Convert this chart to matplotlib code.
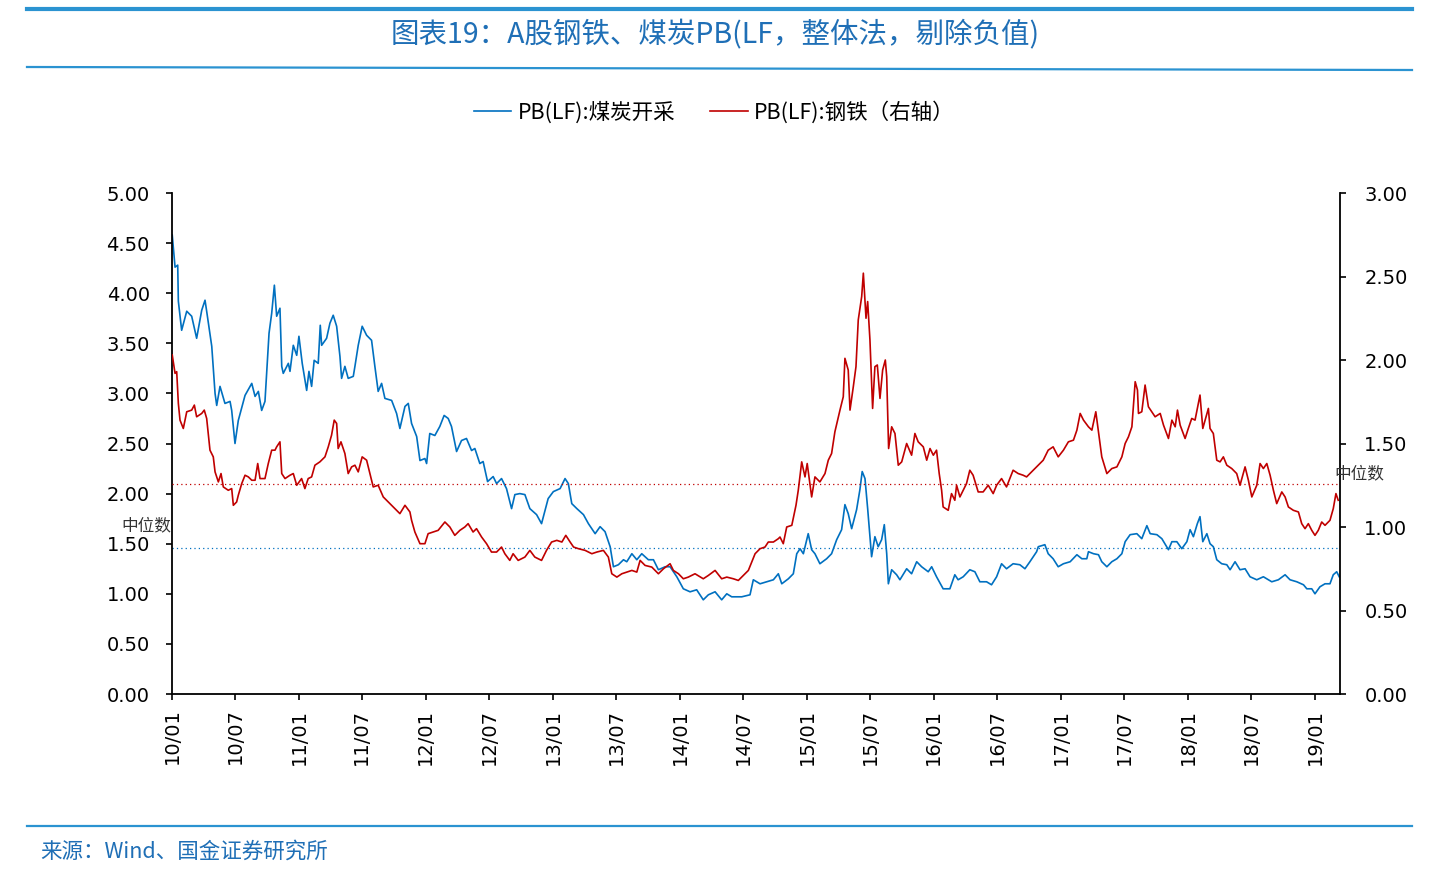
import pandas as pd
import matplotlib
matplotlib.use("Agg")
import matplotlib.pyplot as plt
import matplotlib.dates as mdates
from matplotlib.lines import Line2D

# PB(LF) 煤炭开采 (左轴)，时间为小数年份
coal_t = [2010.002, 2010.024, 2010.045, 2010.050, 2010.076, 2010.116, 2010.155, 2010.194,
          2010.234, 2010.260, 2010.273, 2010.313, 2010.339, 2010.352, 2010.378, 2010.417,
          2010.457, 2010.470, 2010.496, 2010.522, 2010.575, 2010.628, 2010.654, 2010.680,
          2010.706, 2010.732, 2010.764, 2010.785, 2010.806, 2010.824, 2010.850, 2010.864,
          2010.876, 2010.916, 2010.929, 2010.955, 2010.982, 2011.000, 2011.026, 2011.061,
          2011.079, 2011.100, 2011.120, 2011.152, 2011.168, 2011.179, 2011.218, 2011.244,
          2011.270, 2011.297, 2011.323, 2011.336, 2011.362, 2011.388, 2011.428, 2011.441,
          2011.467, 2011.498, 2011.533, 2011.572, 2011.598, 2011.624, 2011.651, 2011.677,
          2011.730, 2011.769, 2011.795, 2011.835, 2011.861, 2011.887, 2011.927, 2011.953,
          2011.992, 2012.006, 2012.031, 2012.071, 2012.110, 2012.144, 2012.176, 2012.202,
          2012.242, 2012.281, 2012.320, 2012.360, 2012.386, 2012.425, 2012.451, 2012.486,
          2012.530, 2012.557, 2012.596, 2012.635, 2012.675, 2012.701, 2012.740, 2012.780,
          2012.819, 2012.872, 2012.911, 2012.963, 2013.002, 2013.055, 2013.094, 2013.120,
          2013.147, 2013.187, 2013.239, 2013.278, 2013.331, 2013.370, 2013.409, 2013.449,
          2013.475, 2013.514, 2013.554, 2013.580, 2013.620, 2013.659, 2013.698, 2013.750,
          2013.790, 2013.829, 2013.882, 2013.921, 2013.974, 2014.026, 2014.079, 2014.131,
          2014.183, 2014.223, 2014.276, 2014.328, 2014.368, 2014.407, 2014.486, 2014.551,
          2014.577, 2014.630, 2014.683, 2014.735, 2014.774, 2014.801, 2014.853, 2014.892,
          2014.919, 2014.945, 2014.971, 2015.010, 2015.037, 2015.063, 2015.102, 2015.155,
          2015.194, 2015.234, 2015.273, 2015.299, 2015.325, 2015.352, 2015.391, 2015.417,
          2015.435, 2015.457, 2015.478, 2015.509, 2015.535, 2015.561, 2015.588, 2015.609,
          2015.628, 2015.641, 2015.667, 2015.706, 2015.732, 2015.785, 2015.824, 2015.864,
          2015.903, 2015.955, 2015.982, 2016.021, 2016.073, 2016.126, 2016.165, 2016.191,
          2016.231, 2016.283, 2016.323, 2016.362, 2016.415, 2016.454, 2016.494, 2016.533,
          2016.572, 2016.624, 2016.677, 2016.717, 2016.756, 2016.809, 2016.822, 2016.874,
          2016.900, 2016.939, 2016.979, 2017.018, 2017.071, 2017.124, 2017.163, 2017.202,
          2017.215, 2017.255, 2017.294, 2017.320, 2017.360, 2017.399, 2017.439, 2017.478,
          2017.504, 2017.543, 2017.596, 2017.635, 2017.675, 2017.701, 2017.754, 2017.793,
          2017.845, 2017.872, 2017.911, 2017.950, 2017.990, 2018.016, 2018.042, 2018.073,
          2018.094, 2018.116, 2018.148, 2018.173, 2018.199, 2018.226, 2018.265, 2018.305,
          2018.331, 2018.370, 2018.409, 2018.449, 2018.488, 2018.541, 2018.593, 2018.659,
          2018.711, 2018.764, 2018.803, 2018.856, 2018.909, 2018.935, 2018.974, 2019.000,
          2019.039, 2019.079, 2019.118, 2019.144, 2019.171, 2019.191]
coal_pb = [4.58, 4.26, 4.28, 3.92, 3.63, 3.82, 3.77, 3.55,
           3.83, 3.93, 3.82, 3.47, 3.00, 2.88, 3.07, 2.90,
           2.92, 2.83, 2.50, 2.73, 2.98, 3.10, 2.97, 3.02,
           2.83, 2.92, 3.60, 3.80, 4.08, 3.77, 3.85, 3.27,
           3.20, 3.30, 3.22, 3.48, 3.38, 3.57, 3.30, 3.03,
           3.22, 3.07, 3.33, 3.30, 3.68, 3.48, 3.55, 3.70,
           3.78, 3.67, 3.37, 3.15, 3.27, 3.15, 3.17, 3.27,
           3.48, 3.67, 3.58, 3.53, 3.27, 3.02, 3.10, 2.95,
           2.93, 2.80, 2.65, 2.87, 2.90, 2.70, 2.57, 2.33,
           2.35, 2.30, 2.60, 2.58, 2.67, 2.78, 2.75, 2.67,
           2.42, 2.53, 2.55, 2.43, 2.45, 2.30, 2.32, 2.12,
           2.17, 2.10, 2.15, 2.05, 1.85, 1.99, 2.00, 1.99,
           1.85, 1.79, 1.70, 1.95, 2.02, 2.05, 2.15, 2.10,
           1.90, 1.85, 1.79, 1.70, 1.60, 1.67, 1.62, 1.47,
           1.27, 1.29, 1.34, 1.32, 1.40, 1.34, 1.40, 1.34,
           1.34, 1.24, 1.27, 1.27, 1.17, 1.05, 1.02, 1.04,
           0.94, 0.99, 1.02, 0.94, 1.00, 0.97, 0.97, 0.99,
           1.14, 1.10, 1.12, 1.14, 1.20, 1.10, 1.15, 1.20,
           1.40, 1.45, 1.40, 1.60, 1.44, 1.40, 1.30, 1.35,
           1.40, 1.54, 1.64, 1.89, 1.80, 1.65, 1.84, 2.04,
           2.22, 2.15, 1.85, 1.37, 1.57, 1.47, 1.54, 1.69,
           1.40, 1.10, 1.24, 1.19, 1.14, 1.25, 1.20, 1.32,
           1.27, 1.22, 1.27, 1.17, 1.05, 1.05, 1.19, 1.14,
           1.17, 1.24, 1.22, 1.12, 1.12, 1.09, 1.17, 1.30,
           1.25, 1.30, 1.29, 1.25, 1.32, 1.42, 1.47, 1.49,
           1.40, 1.35, 1.27, 1.30, 1.32, 1.39, 1.35, 1.35,
           1.42, 1.40, 1.39, 1.32, 1.27, 1.32, 1.35, 1.40,
           1.52, 1.59, 1.60, 1.55, 1.68, 1.60, 1.59, 1.55,
           1.44, 1.52, 1.52, 1.45, 1.52, 1.64, 1.57, 1.70,
           1.77, 1.52, 1.60, 1.50, 1.47, 1.34, 1.30, 1.29,
           1.24, 1.32, 1.24, 1.25, 1.17, 1.14, 1.17, 1.12,
           1.14, 1.19, 1.14, 1.12, 1.09, 1.05, 1.05, 1.00,
           1.07, 1.10, 1.10, 1.19, 1.22, 1.17]

# PB(LF) 钢铁 (右轴)
steel_t = [2010.002, 2010.024, 2010.037, 2010.050, 2010.063, 2010.089, 2010.116, 2010.155,
           2010.176, 2010.194, 2010.234, 2010.254, 2010.273, 2010.299, 2010.325, 2010.339,
           2010.365, 2010.386, 2010.404, 2010.443, 2010.470, 2010.483, 2010.509, 2010.522,
           2010.549, 2010.575, 2010.601, 2010.628, 2010.654, 2010.675, 2010.693, 2010.732,
           2010.758, 2010.785, 2010.811, 2010.824, 2010.850, 2010.864, 2010.890, 2010.929,
           2010.955, 2010.982, 2011.021, 2011.047, 2011.073, 2011.100, 2011.126, 2011.165,
           2011.205, 2011.231, 2011.257, 2011.278, 2011.297, 2011.309, 2011.331, 2011.362,
           2011.388, 2011.415, 2011.441, 2011.467, 2011.498, 2011.533, 2011.559, 2011.585,
           2011.624, 2011.664, 2011.703, 2011.756, 2011.795, 2011.835, 2011.874, 2011.887,
           2011.913, 2011.953, 2011.992, 2012.018, 2012.057, 2012.097, 2012.150, 2012.189,
           2012.228, 2012.268, 2012.307, 2012.333, 2012.372, 2012.399, 2012.439, 2012.478,
           2012.517, 2012.557, 2012.596, 2012.622, 2012.661, 2012.687, 2012.727, 2012.780,
           2012.819, 2012.858, 2012.911, 2012.950, 2012.990, 2013.029, 2013.069, 2013.100,
           2013.134, 2013.161, 2013.200, 2013.252, 2013.305, 2013.344, 2013.396, 2013.435,
           2013.462, 2013.502, 2013.541, 2013.580, 2013.620, 2013.659, 2013.685, 2013.724,
           2013.777, 2013.829, 2013.869, 2013.921, 2013.947, 2013.987, 2014.026, 2014.065,
           2014.118, 2014.183, 2014.223, 2014.276, 2014.328, 2014.368, 2014.420, 2014.459,
           2014.498, 2014.538, 2014.591, 2014.630, 2014.669, 2014.695, 2014.735, 2014.774,
           2014.787, 2014.813, 2014.840, 2014.880, 2014.913, 2014.931, 2014.958, 2014.984,
           2015.002, 2015.037, 2015.063, 2015.102, 2015.142, 2015.168, 2015.194, 2015.220,
           2015.260, 2015.286, 2015.299, 2015.325, 2015.339, 2015.365, 2015.386, 2015.404,
           2015.431, 2015.444, 2015.465, 2015.478, 2015.496, 2015.517, 2015.535, 2015.554,
           2015.575, 2015.596, 2015.617, 2015.628, 2015.643, 2015.667, 2015.693, 2015.719,
           2015.746, 2015.785, 2015.824, 2015.850, 2015.876, 2015.916, 2015.943, 2015.969,
           2015.995, 2016.021, 2016.042, 2016.061, 2016.073, 2016.113, 2016.139, 2016.165,
           2016.179, 2016.205, 2016.231, 2016.257, 2016.283, 2016.309, 2016.349, 2016.388,
           2016.428, 2016.467, 2016.494, 2016.533, 2016.572, 2016.624, 2016.664, 2016.703,
           2016.730, 2016.769, 2016.809, 2016.835, 2016.861, 2016.900, 2016.939, 2016.979,
           2017.018, 2017.057, 2017.097, 2017.124, 2017.150, 2017.176, 2017.215, 2017.242,
           2017.273, 2017.294, 2017.320, 2017.360, 2017.399, 2017.439, 2017.478, 2017.504,
           2017.530, 2017.557, 2017.583, 2017.601, 2017.609, 2017.635, 2017.661, 2017.687,
           2017.714, 2017.740, 2017.780, 2017.806, 2017.845, 2017.872, 2017.898, 2017.916,
           2017.937, 2017.976, 2018.002, 2018.029, 2018.055, 2018.073, 2018.094, 2018.116,
           2018.142, 2018.160, 2018.173, 2018.199, 2018.226, 2018.252, 2018.278, 2018.305,
           2018.344, 2018.383, 2018.409, 2018.449, 2018.475, 2018.502, 2018.541, 2018.567,
           2018.593, 2018.620, 2018.646, 2018.672, 2018.698, 2018.738, 2018.764, 2018.790,
           2018.829, 2018.869, 2018.895, 2018.921, 2018.947, 2018.974, 2019.000, 2019.026,
           2019.053, 2019.079, 2019.118, 2019.144, 2019.165, 2019.183]
steel_pb = [2.03, 1.92, 1.93, 1.74, 1.64, 1.59, 1.69, 1.70,
            1.73, 1.66, 1.68, 1.70, 1.65, 1.46, 1.42, 1.33,
            1.27, 1.32, 1.24, 1.22, 1.23, 1.13, 1.15, 1.19,
            1.26, 1.31, 1.30, 1.28, 1.28, 1.38, 1.29, 1.29,
            1.38, 1.46, 1.46, 1.48, 1.51, 1.32, 1.29, 1.31,
            1.32, 1.25, 1.29, 1.23, 1.29, 1.30, 1.37, 1.39,
            1.42, 1.48, 1.55, 1.64, 1.62, 1.47, 1.51, 1.44,
            1.32, 1.36, 1.37, 1.33, 1.42, 1.40, 1.32, 1.24,
            1.25, 1.18, 1.15, 1.11, 1.08, 1.13, 1.09, 1.04,
            0.97, 0.90, 0.90, 0.96, 0.97, 0.98, 1.03, 1.00,
            0.95, 0.98, 1.00, 1.02, 0.97, 0.99, 0.94, 0.90,
            0.85, 0.85, 0.88, 0.84, 0.80, 0.84, 0.80, 0.82,
            0.86, 0.82, 0.80, 0.86, 0.91, 0.92, 0.91, 0.95,
            0.91, 0.88, 0.87, 0.86, 0.84, 0.85, 0.86, 0.82,
            0.72, 0.70, 0.72, 0.73, 0.74, 0.73, 0.80, 0.77,
            0.76, 0.72, 0.75, 0.78, 0.74, 0.72, 0.69, 0.70,
            0.72, 0.69, 0.71, 0.74, 0.69, 0.70, 0.69, 0.68,
            0.71, 0.74, 0.84, 0.87, 0.88, 0.91, 0.91, 0.93,
            0.94, 0.90, 1.00, 1.01, 1.13, 1.22, 1.39, 1.30,
            1.38, 1.18, 1.30, 1.27, 1.32, 1.40, 1.44, 1.57,
            1.70, 1.78, 2.01, 1.94, 1.70, 1.84, 1.96, 2.24,
            2.38, 2.52, 2.25, 2.35, 2.12, 1.71, 1.96, 1.97,
            1.77, 1.94, 2.00, 1.90, 1.47, 1.60, 1.56, 1.37,
            1.39, 1.50, 1.43, 1.56, 1.51, 1.48, 1.40, 1.47,
            1.43, 1.46, 1.32, 1.22, 1.12, 1.10, 1.20, 1.16,
            1.25, 1.18, 1.22, 1.26, 1.34, 1.31, 1.21, 1.21,
            1.25, 1.20, 1.25, 1.29, 1.24, 1.34, 1.32, 1.31,
            1.30, 1.33, 1.36, 1.38, 1.40, 1.46, 1.48, 1.42,
            1.46, 1.51, 1.52, 1.58, 1.68, 1.64, 1.60, 1.58,
            1.69, 1.57, 1.42, 1.32, 1.35, 1.36, 1.42, 1.50,
            1.54, 1.60, 1.87, 1.82, 1.68, 1.69, 1.85, 1.72,
            1.69, 1.66, 1.68, 1.61, 1.53, 1.64, 1.60, 1.70,
            1.61, 1.53, 1.59, 1.65, 1.64, 1.71, 1.79, 1.59,
            1.66, 1.71, 1.59, 1.56, 1.40, 1.39, 1.42, 1.37,
            1.35, 1.32, 1.25, 1.36, 1.28, 1.18, 1.25, 1.38,
            1.35, 1.38, 1.31, 1.22, 1.14, 1.21, 1.18, 1.12,
            1.10, 1.09, 1.02, 0.99, 1.02, 0.98, 0.95, 0.98,
            1.03, 1.01, 1.04, 1.11, 1.20, 1.16]

coal_median = 1.46
steel_median = 1.26

title = "图表19：A股钢铁、煤炭PB(LF，整体法，剔除负值)"
coal_label = "PB(LF):煤炭开采"
steel_label = "PB(LF):钢铁（右轴）"
source = "来源：Wind、国金证券研究所"

BLUE = "#0070c0"
RED = "#c00000"
TITLE_BLUE = "#1f6fb6"
RULE_BLUE = "#2b93d1"
CJK = ["Noto Sans CJK SC", "DejaVu Sans"]


def to_dates(years):
    # decimal year -> Timestamp
    out = []
    for y in years:
        yr = int(y)
        out.append(pd.Timestamp(yr, 1, 1) + pd.Timedelta(days=(y - yr) * 365.25))
    return out


plt.rcParams['font.family'] = ['DejaVu Sans', 'Noto Sans CJK SC']

fig = plt.figure(figsize=(14.4, 8.85), dpi=100)
ax = fig.add_axes([172 / 1440, 1 - 694 / 885, 1168 / 1440, 501 / 885])
ax2 = ax.twinx()

coal_x = to_dates(coal_t)
steel_x = to_dates(steel_t)

l1, = ax.plot(coal_x, coal_pb, color=BLUE, lw=1.2, label=coal_label)
l2, = ax2.plot(steel_x, steel_pb, color=RED, lw=1.2, label=steel_label)
ax.axhline(coal_median, color=BLUE, lw=0.9, ls=(0, (1, 2.5)))
ax2.axhline(steel_median, color=RED, lw=0.9, ls=(0, (1, 2.5)))

# 坐标轴
ax.set_ylim(0, 5)
ax.set_yticks([0, 0.5, 1, 1.5, 2, 2.5, 3, 3.5, 4, 4.5, 5])
ax.yaxis.set_major_formatter(plt.FormatStrFormatter('%.2f'))
ax2.set_ylim(0, 3)
ax2.set_yticks([0, 0.5, 1, 1.5, 2, 2.5, 3])
ax2.yaxis.set_major_formatter(plt.FormatStrFormatter('%.2f'))

ax.set_xlim(pd.Timestamp(2010, 1, 1), to_dates([2019.197])[0])
ax.xaxis.set_major_locator(mdates.MonthLocator(bymonth=[1, 7]))
ax.xaxis.set_major_formatter(mdates.DateFormatter('%y/%m'))
plt.setp(ax.get_xticklabels(), rotation=90)

for a in (ax, ax2):
    a.spines['top'].set_visible(False)
    for s in a.spines.values():
        s.set_linewidth(1.3)
    a.tick_params(direction='out', length=4.5, width=1.2, labelsize=14, colors='black')
ax.spines['right'].set_visible(False)
ax2.spines['left'].set_visible(False)
ax2.spines['bottom'].set_visible(False)
ax.tick_params(axis='x', pad=6)
ax.tick_params(axis='y', pad=11.5)
ax2.tick_params(axis='y', pad=13)

# 中位数标注
ax.annotate("中位数", xy=(0, coal_median), xycoords=ax.get_yaxis_transform(),
            xytext=(-26, 22), textcoords='offset pixels', ha='center', va='center',
            fontsize=12, color='#333333', family=CJK)
ax2.annotate("中位数", xy=(1, steel_median), xycoords=ax2.get_yaxis_transform(),
             xytext=(19, 10), textcoords='offset pixels', ha='center', va='center',
             fontsize=12, color='#333333', family=CJK)

# 图例
fig.legend(handles=[l1, l2], loc='center', bbox_to_anchor=(0.496, 1 - 112 / 885),
           ncol=2, frameon=False, prop={'family': CJK, 'size': 15.5},
           handlelength=1.75, handletextpad=0.3, columnspacing=1.6)

# 标题与装饰线
fig.text(0.497, 1 - 35 / 885, title, ha='center', va='center', fontsize=20.5,
         color=TITLE_BLUE, family=CJK)
fig.add_artist(Line2D([27 / 1440, 1412 / 1440], [1 - 9 / 885, 1 - 9 / 885],
                      color=RULE_BLUE, lw=3, transform=fig.transFigure))
fig.add_artist(Line2D([27 / 1440, 1412 / 1440], [1 - 67 / 885, 1 - 70 / 885],
                      color=RULE_BLUE, lw=1.6, transform=fig.transFigure))
fig.add_artist(Line2D([27 / 1440, 1412 / 1440], [1 - 826 / 885, 1 - 826 / 885],
                      color=RULE_BLUE, lw=1.6, transform=fig.transFigure))
fig.text(40 / 1440, 1 - 852 / 885, source, ha='left', va='center', fontsize=15.5,
         color=TITLE_BLUE, family=CJK, style='italic')

fig.savefig("out.png", dpi=100)
